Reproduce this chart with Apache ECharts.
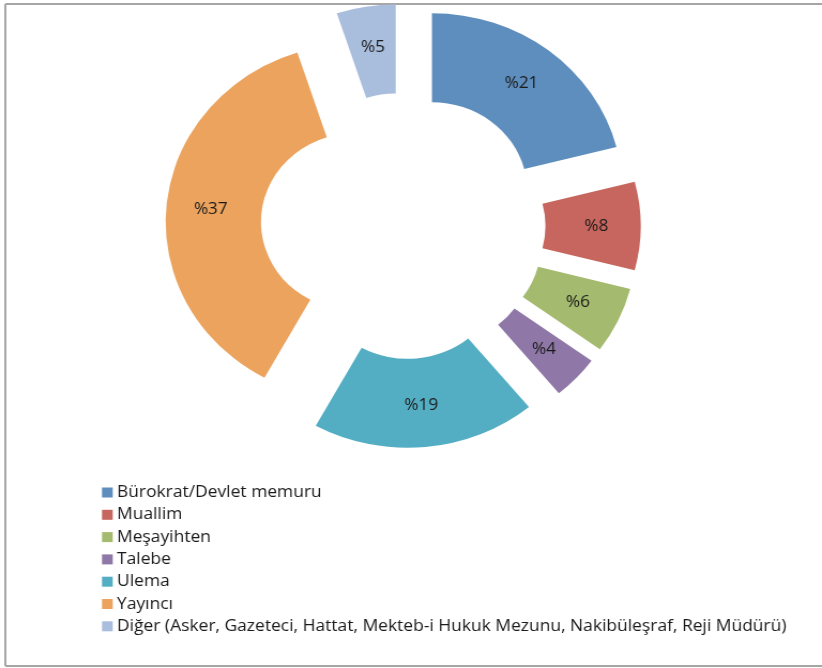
<!DOCTYPE html>
<html>
<head>
<meta charset="utf-8">
<script src="https://cdn.jsdelivr.net/npm/echarts@6/dist/echarts.min.js"></script>
<style>
html,body{margin:0;padding:0;background:#fff;overflow:hidden;}
#wrap{width:822px;height:668px;overflow:hidden;position:relative;}
#chart{width:768px;height:668px;transform:scaleX(1.0703);transform-origin:0 0;}
</style>
</head>
<body>
<div id="wrap"><div id="chart"></div></div>
<script>
const categories = [
  'Bürokrat/Devlet memuru',
  'Muallim',
  'Meşayihten',
  'Talebe',
  'Ulema',
  'Yayıncı',
  'Diğer (Asker, Gazeteci, Hattat, Mekteb-i Hukuk Mezunu, Nakibüleşraf, Reji Müdürü)'
];
const percentValues = [21, 8, 6, 4, 19, 37, 5];
const sliceColors = ['#5E8EBD', '#C6665E', '#A4BA6F', '#8F78A7', '#54AEC3', '#EBA35E', '#A9BDDD'];

const chart = echarts.init(document.getElementById('chart'), null, {renderer: 'canvas'});
const data = categories.map((name, i) => ({
  name: name,
  value: percentValues[i],
  selected: true,
  itemStyle: {color: sliceColors[i]}
}));

chart.setOption({
  animation: false,
  backgroundColor: '#ffffff',
  graphic: [
    {type: 'line', shape: {x1: 5, y1: 4, x2: 780, y2: 4}, style: {stroke: '#a6a6a6', lineWidth: 2}},
    {type: 'line', shape: {x1: 5, y1: 4, x2: 5, y2: 666}, style: {stroke: '#a6a6a6', lineWidth: 2}},
    {type: 'line', shape: {x1: 5, y1: 666, x2: 780, y2: 666}, style: {stroke: '#a6a6a6', lineWidth: 2}}
  ],
  legend: {
    orient: 'vertical',
    left: 95.3,
    top: 484,
    padding: 0,
    itemWidth: 10,
    itemHeight: 10,
    itemGap: 5.3,
    icon: 'rect',
    selectedMode: false,
    data: categories,
    textStyle: {fontFamily: 'Open Sans', fontSize: 16.3, color: '#1a1a1a', lineHeight: 17, padding: [0, 0, 0, -1]}
  },
  series: [{
    type: 'pie',
    center: [376.6, 226],
    radius: [89, 178],
    startAngle: 90,
    clockwise: true,
    selectedMode: 'multiple',
    selectedOffset: 44,
    avoidLabelOverlap: false,
    emphasis: {disabled: true},
    select: {itemStyle: {}},
    label: {
      show: true,
      position: 'inside',
      formatter: p => '%' + p.value,
      fontFamily: 'Open Sans',
      fontSize: 16,
      color: '#1a1a1a',
      offset: [0, 3]
    },
    labelLine: {show: false},
    data: data
  }]
});
</script>
</body>
</html>
